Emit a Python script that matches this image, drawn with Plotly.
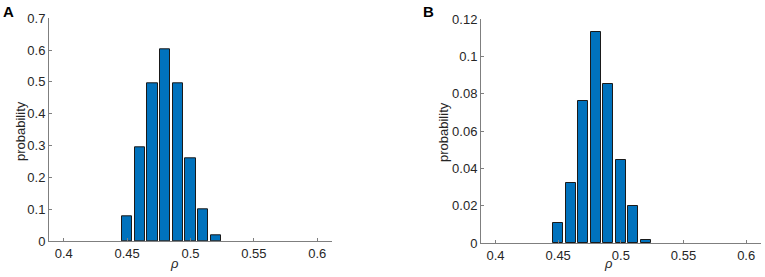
import plotly.graph_objects as go

rho_bins = [0.45, 0.46, 0.47, 0.48, 0.49, 0.50, 0.51, 0.52]
prob_A = [0.077, 0.293, 0.495, 0.602, 0.495, 0.259, 0.099, 0.018]
prob_B = [0.0109, 0.0323, 0.0759, 0.1132, 0.0854, 0.0443, 0.0200, 0.0016]

x_ticks = [0.4, 0.45, 0.5, 0.55, 0.6]
x_ticklabels = ["0.4", "0.45", "0.5", "0.55", "0.6"]
yA_ticks = [0, 0.1, 0.2, 0.3, 0.4, 0.5, 0.6, 0.7]
yA_ticklabels = ["0", "0.1", "0.2", "0.3", "0.4", "0.5", "0.6", "0.7"]
yB_ticks = [0, 0.02, 0.04, 0.06, 0.08, 0.1, 0.12]
yB_ticklabels = ["0", "0.02", "0.04", "0.06", "0.08", "0.1", "0.12"]

W, H = 765, 277
FONT = "Liberation Sans, Arial, sans-serif"
AXC = "#7f7f7f"
TXT = "#262626"

fig = go.Figure()
bar_style = dict(marker=dict(color="#0072BD", line=dict(color="#1a1a1a", width=1)),
                 width=0.008, showlegend=False, hoverinfo="x+y")
fig.add_trace(go.Bar(x=rho_bins, y=prob_A, xaxis="x", yaxis="y", **bar_style))
fig.add_trace(go.Bar(x=rho_bins, y=prob_B, xaxis="x2", yaxis="y2", **bar_style))

def px_x(a, b):
    return [a / W, b / W]

def px_y(top, bottom):
    return [(H - bottom) / H, (H - top) / H]

common_x = dict(range=[0.3884, 0.6116], tickvals=x_ticks, ticktext=x_ticklabels,
                ticks="inside", ticklen=3, tickcolor=AXC, showline=True, linecolor=AXC,
                linewidth=1, showgrid=False, zeroline=False, automargin=False,
                tickfont=dict(family=FONT, size=13, color=TXT))
common_y = dict(ticks="inside", ticklen=3, tickcolor=AXC, showline=True, linecolor=AXC,
                linewidth=1, showgrid=False, zeroline=False, automargin=False,
                tickfont=dict(family=FONT, size=13, color=TXT))

def ann(text, x, y, size, angle=0, color=TXT):
    return dict(text=text, x=x / W, y=1 - y / H, xref="paper", yref="paper",
                xanchor="center", yanchor="middle", showarrow=False, textangle=angle,
                font=dict(family=FONT, size=size, color=color))

fig.update_layout(
    template="none",
    width=W, height=H, autosize=False,
    margin=dict(l=0, r=0, t=0, b=0, pad=0),
    paper_bgcolor="white", plot_bgcolor="white",
    bargap=0,
    xaxis=dict(domain=px_x(49, 332), anchor="y", **common_x),
    yaxis=dict(domain=px_y(18.3, 241), anchor="x", range=[0, 0.7],
               tickvals=yA_ticks, ticktext=yA_ticklabels, **common_y),
    xaxis2=dict(domain=px_x(481, 760.7), anchor="y2", **common_x),
    yaxis2=dict(domain=px_y(19, 243), anchor="x2", range=[0, 0.12],
                tickvals=yB_ticks, ticktext=yB_ticklabels, **common_y),
    annotations=[
        ann("<b>A</b>", 8.3, 11.5, 15, color="black"),
        ann("<b>B</b>", 428.5, 11.5, 15, color="black"),
        ann("probability", 20, 131, 13, angle=-90),
        ann("probability", 443, 132, 13, angle=-90),
        ann("<i>ρ</i>", 174, 263, 13),
        ann("<i>ρ</i>", 608, 263, 13),
    ],
)

fig.write_html("out.html", config={"displayModeBar": False},
               post_script="document.body.style.margin='0';document.body.style.overflow='hidden';")
